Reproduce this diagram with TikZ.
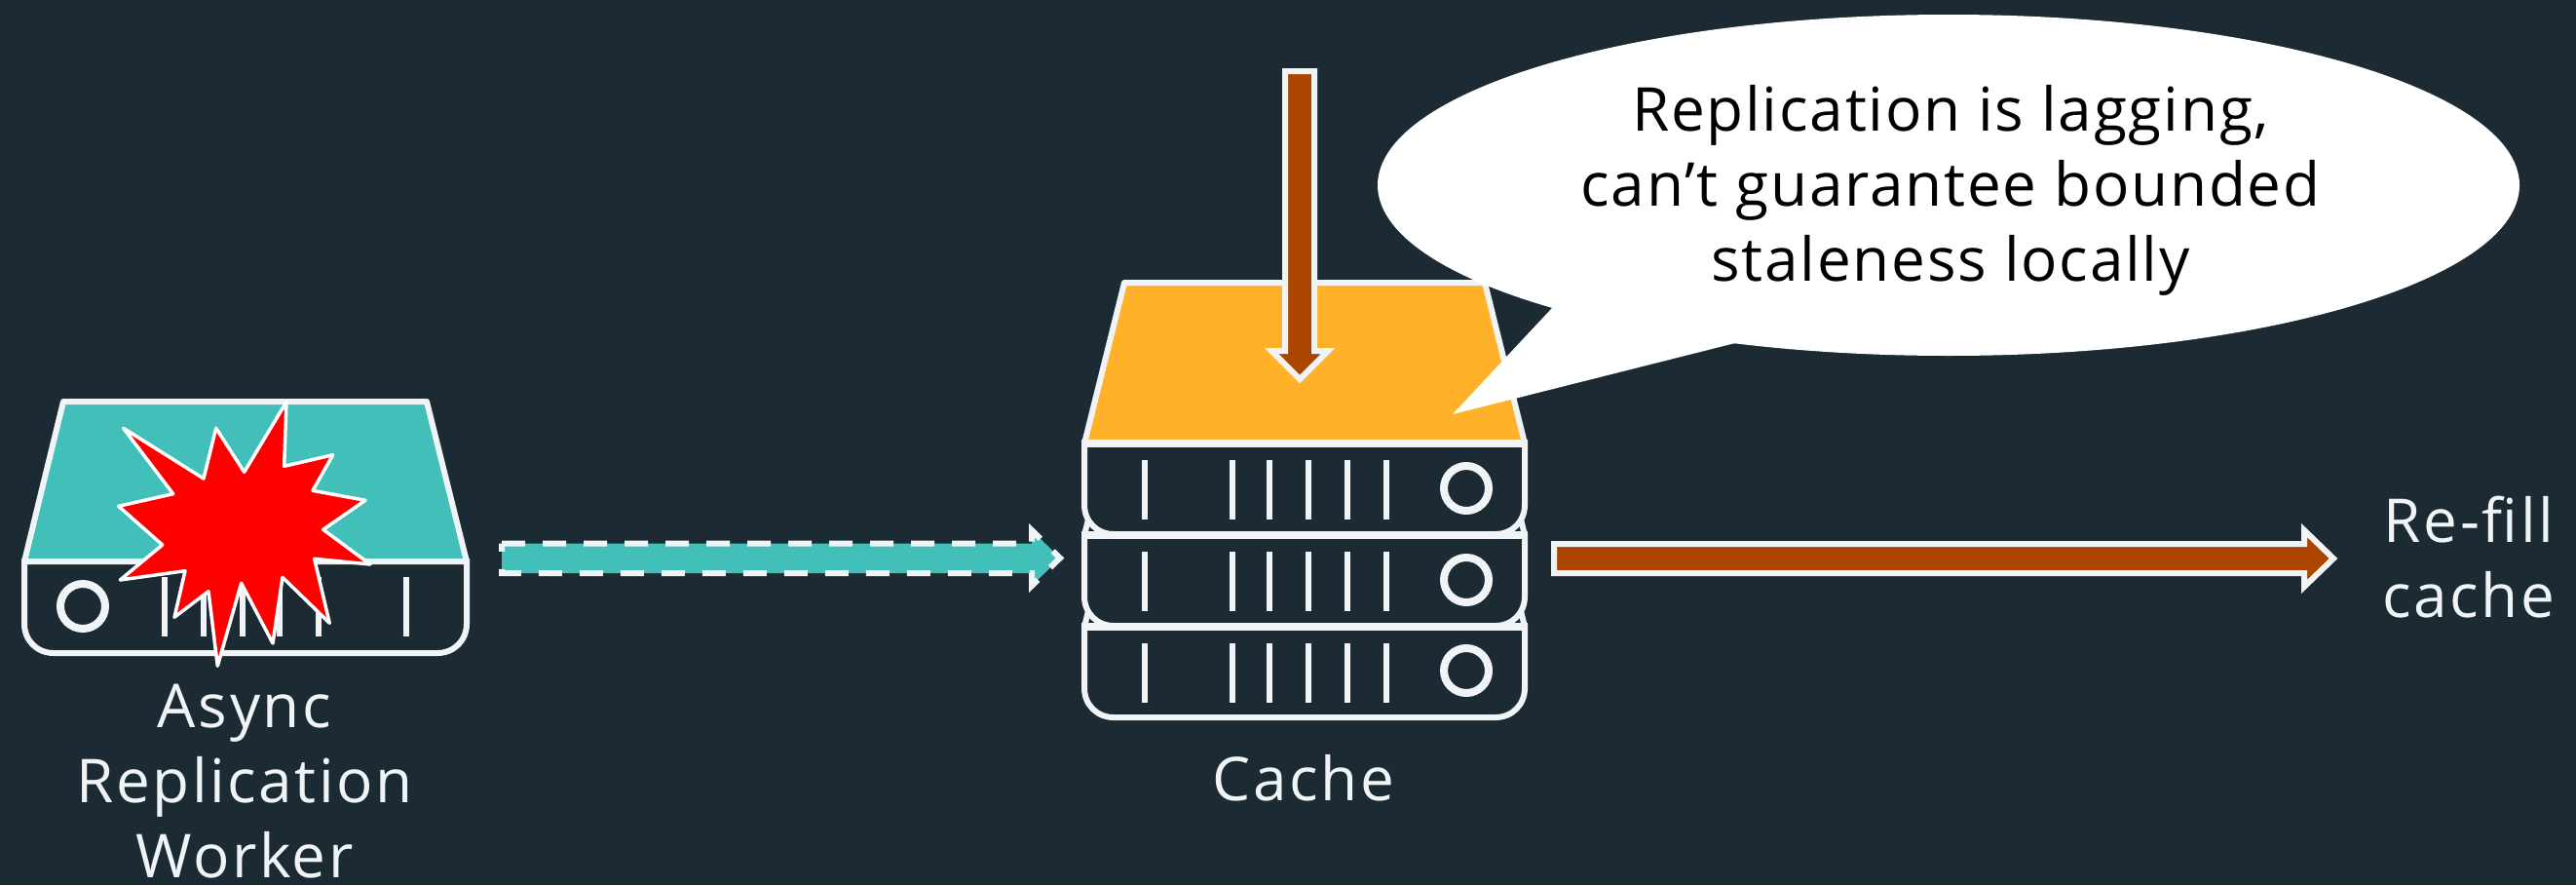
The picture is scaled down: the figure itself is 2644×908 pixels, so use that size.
\documentclass[tikz,border=0pt]{standalone}
\usepackage{fontspec}
\setmainfont{Open Sans}
\definecolor{bgc}{HTML}{1C2B33}
\definecolor{linec}{HTML}{F1F4F7}
\definecolor{tealc}{HTML}{42BFB8}
\definecolor{orangec}{HTML}{FFB229}
\definecolor{brownc}{HTML}{AB4500}
\tikzset{
  outline/.style={draw=linec,line width=6pt,line join=miter},
  rack/.style={outline,fill=bgc},
  bar/.style={draw=linec,line width=6pt},
  led/.style={draw=linec,line width=8pt},
  blockarrow/.style={draw=linec,line width=6pt,fill=brownc,line join=miter},
  label/.style={text=linec,align=center,inner sep=0pt,font=\fontsize{62}{77}\selectfont\addfontfeatures{LetterSpace=4.2}},
  bubbletext/.style={text=black,align=center,inner sep=0pt,font=\fontsize{62}{77}\selectfont\addfontfeatures{LetterSpace=2.9}},
}
\newcommand{\rackbox}[3]{% left x, right x, lid colour
  \path[outline,fill=#3,line join=round] (#1,0) -- ({#1+41},-165) -- ({#2-41},-165) -- (#2,0) -- cycle;
  \path[rack] (#1,0) -- (#1,63) .. controls (#1,80) and ({#1+13},93) .. ({#1+30},93)
     -- ({#2-30},93) .. controls ({#2-13},93) and (#2,80) .. (#2,63) -- (#2,0) -- cycle;
  \draw[draw=linec,line width=8pt] ({#1-3},0) -- ({#2+3},0);
}
\begin{document}
\begin{tikzpicture}[x=1pt,y=-1pt]
\useasboundingbox (0,0) rectangle (2644,908);
\fill[bgc] (0,0) rectangle (2644,908);

% worker
\path[outline,fill=tealc,line join=round] (25,576) -- (65,412) -- (438,412) -- (479,576) -- cycle;
\begin{scope}[shift={(0,576)}]
  \path[rack] (25,0) -- (25,64) .. controls (25,81) and (38,94) .. (55,94)
     -- (449,94) .. controls (466,94) and (479,81) .. (479,64) -- (479,0) -- cycle;
\end{scope}
\foreach \x in {169,209,249,287,327,417} \draw[bar] (\x,592) -- (\x,653);
\draw[led] (85,622) circle[radius=23];
\path[draw=white,fill=red,line width=3.5pt,line join=round]
 (294,412.3) -- (291.7,478.3) -- (341.7,466.7) -- (321,503.3) -- (375,513.3) -- (331.7,543.3)
 -- (380,579) -- (322.7,573.3) -- (338.3,639.3) -- (290,592.3) -- (280,660) -- (247.7,598.3)
 -- (223.3,683.3) -- (214,606.7) -- (179,633.3) -- (190,585.7) -- (123.3,595) -- (166.7,559)
 -- (121.7,519.3) -- (177.7,506.7) -- (126.7,439.3) -- (209,491) -- (221.7,439.3) -- (250.7,484.3) -- cycle;
\node[label,anchor=base] (worker) at (251,900) {Async\\Replication\\Worker};

% dashed arrow
\path[fill=tealc] (515,557.5) -- (1059,557.5) -- (1059,544) -- (1088,572.5) -- (1059,601) -- (1059,588) -- (515,588) -- cycle;
\draw[draw=linec,line width=6pt,dash pattern=on 24pt off 18pt,line join=miter]
  (515,557.5) -- (1059,557.5) -- (1059,544) -- (1088,572.5) -- (1059,601) -- (1059,588) -- (515,588) -- cycle;

% cache
\begin{scope}[shift={(0,643)}]
  \rackbox{1113}{1565}{bgc}
\end{scope}
\begin{scope}[shift={(0,549)}]
  \rackbox{1113}{1565}{bgc}
\end{scope}
\begin{scope}[shift={(0,455)}]
  \rackbox{1113}{1565}{orangec}
\end{scope}
\foreach \y/\c in {472/501,566/595,660/688}{
  \foreach \x in {1175,1265,1303,1343,1383,1423} \draw[bar] (\x,\y) -- (\x,\y+61);
  \draw[led] (1505,\c) circle[radius=23];
}
\node[label,anchor=base] (cache) at (1338,821) {Cache};

% down arrow
\path[blockarrow] (1319,73) -- (1349,73) -- (1349,360) -- (1363,360) -- (1334,389) -- (1305,360) -- (1319,360) -- cycle;

% speech bubble
\path[fill=white] (1593,316) -- (1491,425) -- (1781,352) -- (1800,200) -- cycle;
\fill[white] (2000,190) ellipse[x radius=586,y radius=175];
\node[bubbletext,anchor=base] (speech) at (2002,288) {Replication is lagging,\\can’t guarantee bounded\\staleness locally};

% right arrow
\path[blockarrow] (1595,558) -- (2365,558) -- (2365,544) -- (2395,573) -- (2365,602) -- (2365,588) -- (1595,588) -- cycle;
\node[label,anchor=base] (refill) at (2534,633) {Re-fill\\cache};
\end{tikzpicture}
\end{document}
